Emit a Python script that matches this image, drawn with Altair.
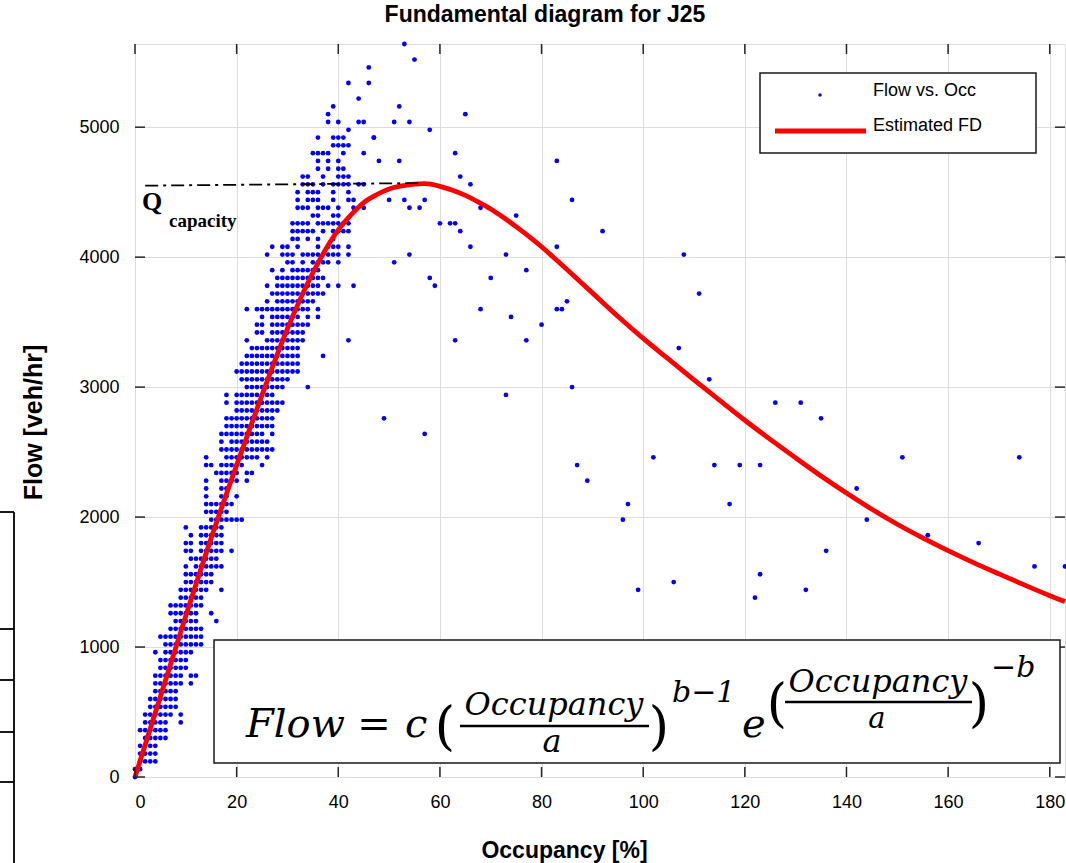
import altair as alt
import pandas as pd

# ---------------- data ----------------
x_ticks = [0, 20, 40, 60, 80, 100, 120, 140, 160, 180]
y_ticks = [0, 1000, 2000, 3000, 4000, 5000]

# dense cluster: flow level (veh/hr) -> occupancies (%) of the dots on that row
cluster_rows = [
    (0, "0"), (60, "0-1"), (120, "1-4"), (180, "1-4"), (240, "1-4"), (300, "2-6"),
    (360, "1-6"), (420, "2-6,9"), (480, "2-7,9"), (540, "3-8"), (600, "3-8"),
    (660, "4-8"), (720, "4-9,11"), (780, "4-9,11-12"), (840, "5-10"), (900, "5-10"),
    (960, "4,6-11"), (1020, "6-13"), (1080, "5-13"), (1140, "7-13"), (1200, "8-12,16"),
    (1260, "7-12,15"), (1320, "7-13"), (1380, "9-13"), (1440, "9-14,17"), (1500, "10-15"),
    (1560, "10-15"), (1620, "10,12-17"), (1680, "11-16"), (1740, "10-11,13-17,19"),
    (1800, "10-11,13-17"), (1860, "11,13-17"), (1920, "10,13-17"), (1980, "15-21"),
    (2040, "14-18"), (2100, "14-19"), (2160, "14,17-18,20"), (2220, "14,17-18"),
    (2280, "14,17-20,22"), (2340, "16-20,22-23"), (2400, "14-15,17-21,25"),
    (2460, "14,18-24,26"), (2520, "17-27"), (2580, "17,19-26"), (2640, "17-25,27"),
    (2700, "18-27"), (2760, "18-27"), (2820, "20-28"), (2880, "18,20-29"),
    (2940, "18,20-27"), (3000, "22-29,34"), (3060, "21-30"), (3120, "20-32"),
    (3180, "21-32"), (3240, "22-32,37"), (3300, "23-32"), (3360, "22,26-33,42"),
    (3420, "24-25,27-33"), (3480, "24-25,27-34"), (3540, "25,27-32,34,36"),
    (3600, "22,24-34,36"), (3660, "26,28-35"), (3720, "27-37"),
    (3780, "26,28-36,38,40,43"), (3840, "28-37"), (3900, "27,29,31-36"),
    (3960, "30-31,33,35-38,40"), (4020, "26,29-31,33-40,42"),
    (4080, "27,29-30,32,36,38-40,42"), (4140, "31-32,34,36,39"),
    (4200, "31-35,37,39-42"), (4260, "31-34,36-42"), (4320, "35-36,39-40"),
    (4380, "32-34,36-38,40,43,45"), (4440, "32,34-36,39,42-43"),
    (4500, "32,34-36,39,42"), (4560, "33-35,37,39-42,44-45"), (4620, "33-34,37,40-42"),
    (4680, "36,38,40-41"), (4740, "36,38,40"), (4800, "35-38,41,45"), (4860, "39-42"),
    (4920, "36,39-41,47"), (4980, "42"), (5040, "38,40,44-45"), (5100, "38"),
    (5160, "39"), (5220, "44"), (5340, "42,46"), (5460, "46"),
]

# scattered dots
out_occ = [50, 53, 57, 54, 56, 48, 52, 47, 58, 51, 54, 65, 52, 55, 53, 63, 83, 64, 66, 86,
           68, 75, 60, 62, 63, 64, 92, 66, 83, 54, 73, 108, 51, 77, 58, 70, 59, 111, 85, 68,
           83, 84, 74, 80, 63, 77, 107, 113, 86, 73, 126, 131, 49, 135, 57, 102, 151, 174,
           87, 114, 119, 123, 89, 142, 97, 117, 96, 144, 156, 166, 136, 177, 183, 123, 106,
           99, 132, 122]
out_flow = [4440, 4440, 4440, 4380, 4380, 4740, 4740, 4920, 4980, 5040, 5040, 5100, 5160,
            5520, 5640, 4800, 4740, 4620, 4560, 4440, 4380, 4320, 4260, 4260, 4260, 4200,
            4200, 4080, 4080, 4020, 4020, 4020, 3960, 3900, 3840, 3840, 3780, 3720, 3660,
            3600, 3600, 3600, 3540, 3480, 3360, 3360, 3300, 3060, 3000, 2940, 2880, 2880,
            2760, 2760, 2640, 2460, 2460, 2460, 2400, 2400, 2400, 2400, 2280, 2220, 2100,
            2100, 1980, 1980, 1860, 1800, 1740, 1620, 1620, 1560, 1500, 1440, 1440, 1380]

# estimated FD curve
fd_occ = [0, 5, 10, 15, 20, 25, 30, 35, 40, 42.5, 45, 47.5, 50, 52.5, 55, 57, 60, 62.5, 65,
          67.5, 70, 72.5, 75, 77.5, 80, 82.5, 85, 87.5, 90, 95, 100, 105, 110, 115, 120, 125,
          130, 135, 140, 145, 150, 155, 160, 165, 170, 175, 180, 183]
fd_flow = [0, 620, 1240, 1840, 2400, 2940, 3450, 3880, 4210, 4325, 4420, 4480, 4525, 4548,
           4562, 4565, 4545, 4515, 4475, 4425, 4370, 4305, 4235, 4160, 4080, 3993, 3905, 3815,
           3725, 3545, 3375, 3215, 3055, 2900, 2745, 2598, 2455, 2316, 2185, 2060, 1945, 1840,
           1742, 1650, 1563, 1478, 1395, 1350]

# Q capacity dash-dot line
qcap_occ = [2, 56.5]
qcap_flow = [4550, 4570]

x_max = 183
y_max = 5640

# ---------------- build tables ----------------
def parse(spec):
    vals = []
    for part in spec.split(","):
        if "-" in part:
            a, b = part.split("-")
            vals.extend(range(int(a), int(b) + 1))
        else:
            vals.append(int(part))
    return vals

rows = []
for f, spec in cluster_rows:
    for o in parse(spec):
        rows.append({"occ": o, "flow": f})
for o, f in zip(out_occ, out_flow):
    rows.append({"occ": o, "flow": f})
pts = pd.DataFrame(rows)
fd = pd.DataFrame({"occ": fd_occ, "flow": fd_flow})
qc = pd.DataFrame({"occ": qcap_occ, "flow": qcap_flow})

W, H = 930, 733
AX = "#262626"
SANS = "Liberation Sans"
xs = alt.Scale(domain=[0, x_max], nice=False, zero=False)
ys = alt.Scale(domain=[0, y_max], nice=False, zero=False)

points = alt.Chart(pts).mark_circle(size=23, color="#0000ff", opacity=1).encode(
    x=alt.X("occ:Q", scale=xs,
            axis=alt.Axis(values=x_ticks, format="d", title="Occupancy [%]", grid=True,
                          tickSize=0, domain=False, labelPadding=16,
                          labelFontSize=18, titleFontSize=23,
                          titleX=429, titleY=73, titleBaseline="middle", titleAlign="center")),
    y=alt.Y("flow:Q", scale=ys,
            axis=alt.Axis(values=y_ticks, format="d", title="Flow [veh/hr]", grid=True,
                          tickSize=0, domain=False, labelPadding=16,
                          labelFontSize=18, titleFontSize=25,
                          titleX=-102, titleY=378, titleBaseline="middle", titleAlign="center",
                          titleAngle=270)),
)

curve = alt.Chart(fd).mark_line(color="#ff0000", strokeWidth=4.8, interpolate="monotone").encode(
    x=alt.X("occ:Q", scale=xs), y=alt.Y("flow:Q", scale=ys))

qline = alt.Chart(qc).mark_line(color="#000000", strokeWidth=1.8, strokeDash=[13, 5, 3, 5]).encode(
    x=alt.X("occ:Q", scale=xs), y=alt.Y("flow:Q", scale=ys))

one = pd.DataFrame({"a": [0]})

def txt(s, x, y, size, font=SANS, weight="normal", style="normal", align="left",
        baseline="alphabetic", color="#000000"):
    return alt.Chart(one).mark_text(text=s, fontSize=size, font=font, fontWeight=weight,
                                    fontStyle=style, align=align, baseline=baseline,
                                    color=color).encode(x=alt.value(x), y=alt.value(y))

def rule(x1, y1, x2, y2, w=1.5, color="#000000"):
    return alt.Chart(one).mark_rule(strokeWidth=w, color=color).encode(
        x=alt.value(x1), x2=alt.value(x2), y=alt.value(y1), y2=alt.value(y2))

def box(x1, y1, x2, y2, w=1.5):
    return alt.Chart(one).mark_rect(fill="#ffffff", stroke="#1a1a1a", strokeWidth=w).encode(
        x=alt.value(x1), x2=alt.value(x2), y=alt.value(y1), y2=alt.value(y2))

qlabel = txt("Q", 7, 166, 26, font="Liberation Serif", weight="bold") + \
    txt("capacity", 34, 183, 19, font="Liberation Serif", weight="bold")

# inward ticks
xt = pd.DataFrame({"v": x_ticks})
yt = pd.DataFrame({"v": y_ticks})
ticks = (
    alt.Chart(xt).mark_rule(color=AX, strokeWidth=1.5).encode(
        x=alt.X("v:Q", scale=xs), y=alt.value(H), y2=alt.value(H - 10)) +
    alt.Chart(xt).mark_rule(color=AX, strokeWidth=1.5).encode(
        x=alt.X("v:Q", scale=xs), y=alt.value(0), y2=alt.value(10)) +
    alt.Chart(yt).mark_rule(color=AX, strokeWidth=1.5).encode(
        y=alt.Y("v:Q", scale=ys), x=alt.value(0), x2=alt.value(10)) +
    alt.Chart(yt).mark_rule(color=AX, strokeWidth=1.5).encode(
        y=alt.Y("v:Q", scale=ys), x=alt.value(W), x2=alt.value(W - 10))
)

# formula box
SER = "DejaVu Serif"
formula = (
    box(79, 596, 925, 719) +
    txt("Flow", 111, 693, 40, font=SER, style="italic") +
    txt("=", 239, 693, 40, font=SER, align="center") +
    txt("c", 270, 693, 40, font=SER, style="italic") +
    txt("(", 310, 700, 52, font=SER, align="center") +
    txt("Occupancy", 419, 671, 32, font=SER, style="italic", align="center") +
    rule(325, 682, 514, 682, w=2.5) +
    txt("a", 417, 708, 32, font=SER, style="italic", align="center") +
    txt(")", 524, 700, 52, font=SER, align="center") +
    txt("b−1", 537, 658, 30, font=SER, style="italic") +
    txt("e", 607, 693, 40, font=SER, style="italic") +
    txt("(", 642, 677, 52, font=SER, align="center") +
    txt("Occupancy", 743, 648, 32, font=SER, style="italic", align="center") +
    rule(650, 658, 837, 658, w=2.5) +
    txt("a", 742, 684, 29, font=SER, style="italic", align="center") +
    txt(")", 844, 677, 52, font=SER, align="center") +
    txt("−b", 856, 633, 30, font=SER, style="italic")
)

# legend
legend = (
    box(625, 29, 901, 109) +
    alt.Chart(one).mark_circle(size=12, color="#0000ff", opacity=1).encode(
        x=alt.value(685), y=alt.value(51)) +
    txt("Flow vs. Occ", 738, 47, 18, baseline="middle") +
    rule(640, 87, 731, 87, w=5, color="#ff0000") +
    txt("Estimated FD", 738, 82, 18, baseline="middle")
)

# stray lines at the far left edge of the picture
stray = (
    rule(-121, 468, -121, 819, w=1.8) +
    rule(-135, 468, -121, 468, w=1.8) +
    rule(-135, 585, -121, 585, w=1.8) +
    rule(-135, 636, -121, 636, w=1.8) +
    rule(-135, 688, -121, 688, w=1.8) +
    rule(-135, 738, -121, 738, w=1.8)
)

chart = alt.layer(points, curve, qline, qlabel, ticks, formula, legend, stray).properties(
    width=W, height=H,
    title=alt.Title("Fundamental diagram for J25", fontSize=23, font=SANS, fontWeight="bold",
                    color="#000000", offset=15, dx=-55),
    autosize=alt.AutoSizeParams(type="none"),
    padding={"left": 135, "top": 44, "right": 1, "bottom": 86},
).configure_view(stroke=AX, strokeWidth=1.5).configure_axis(
    gridColor="#d9d9d9", gridWidth=1.2, labelFont=SANS, titleFont=SANS,
    labelColor=AX, titleColor="#000000", titleFontWeight="bold",
).configure(background="#ffffff")

chart.save("out.html", embed_options={"renderer": "svg", "actions": False})
